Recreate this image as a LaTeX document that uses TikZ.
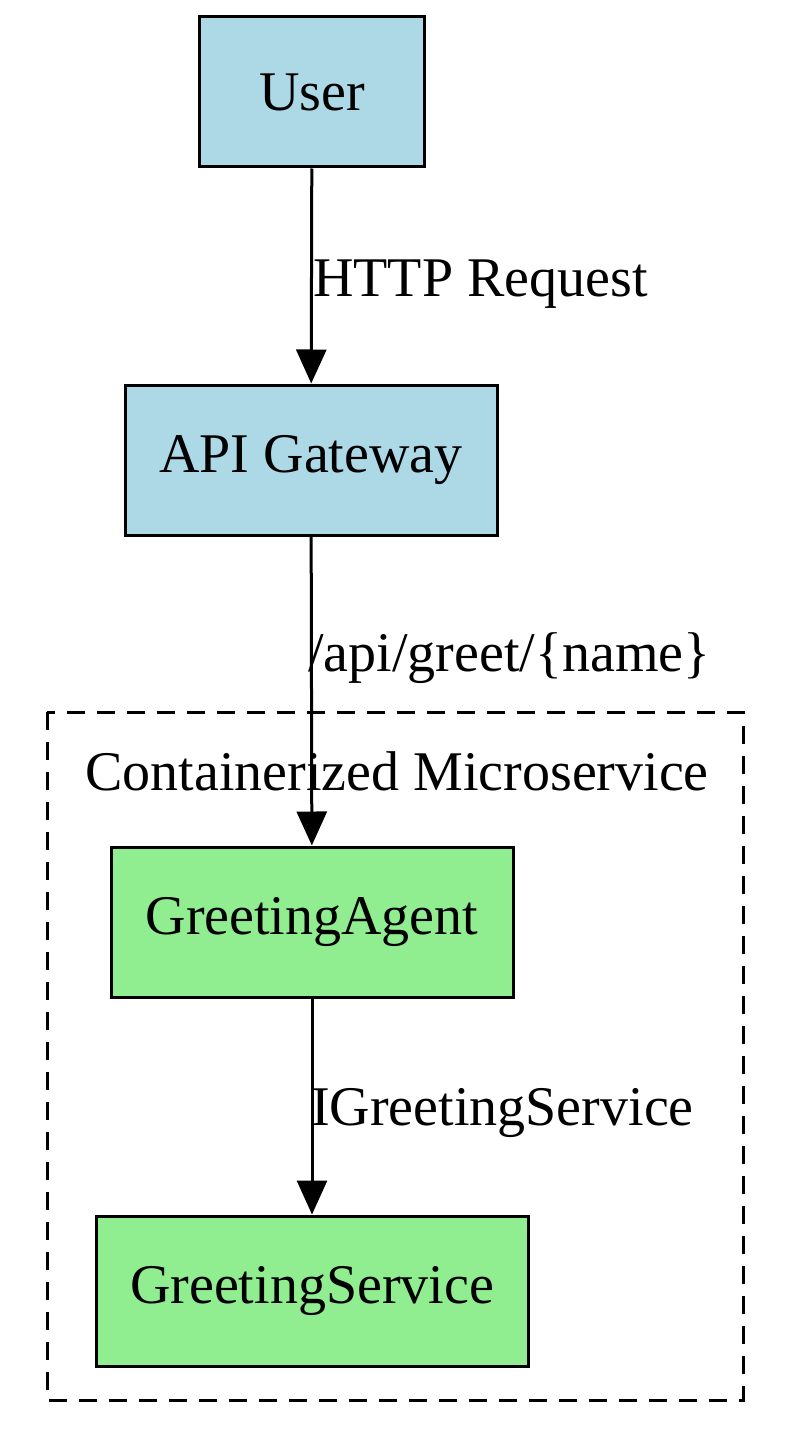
\documentclass[tikz,border=0pt]{standalone}
\usepackage{fontspec}
\setmainfont{Liberation Serif}
\usetikzlibrary{arrows.meta}
\definecolor{lblue}{HTML}{ADD8E6}
\definecolor{lgreen}{HTML}{90EE90}
\begin{document}
\begin{tikzpicture}[x=1pt,y=-1pt,
  box/.style={draw,line width=3pt,minimum height=150pt,inner sep=0pt,font=\fontsize{56}{62}\selectfont},
  lbl/.style={font=\fontsize{56}{62}\selectfont,anchor=west,inner sep=0pt},
  arr/.style={line width=3pt,-{Triangle[length=34pt,width=30pt]}}]
\useasboundingbox (0,0) rectangle (796,1450);
\draw[line width=3pt,dash pattern=on 18pt off 12pt] (47,712) rectangle (743,1400);
\node[font=\fontsize{56}{62}\selectfont] (cl) at (397,771) {Containerized Microservice};
\node[box,fill=lblue,minimum width=225pt] (user) at (312,92) {User};
\node[box,fill=lblue,minimum width=372pt] (api) at (311,460) {API Gateway};
\node[box,fill=lgreen,minimum width=402pt] (agent) at (312,922) {GreetingAgent};
\node[box,fill=lgreen,minimum width=432pt] (svc) at (312,1291) {GreetingService};
\draw[arr] (user) -- (api);
\draw[arr] (api) -- (agent);
\draw[arr] (agent) -- (svc);
\node[lbl] (l1) at (313,284) {HTTP Request};
\node[lbl] (l2) at (308,658) {/api/greet/\{name\}};
\node[lbl] (l3) at (311,1113) {IGreetingService};
\end{tikzpicture}
\end{document}
